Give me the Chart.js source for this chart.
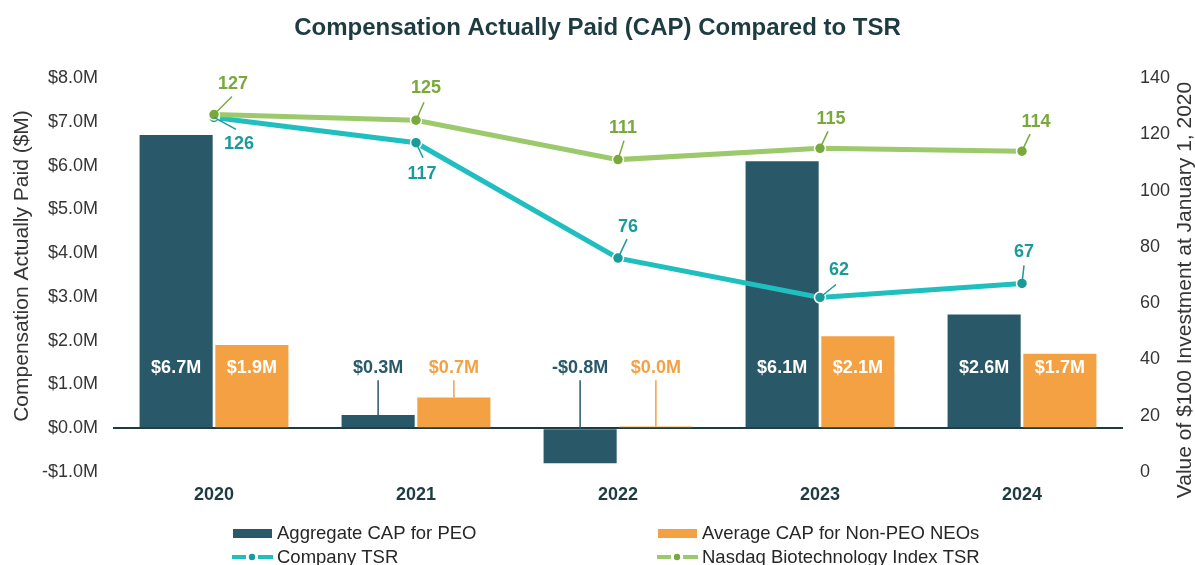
<!DOCTYPE html>
<html>
<head>
<meta charset="utf-8">
<script src="https://cdn.jsdelivr.net/npm/chart.js@4.4.1/dist/chart.umd.min.js"></script>
<style>
  html, body { margin: 0; padding: 0; background: #ffffff; }
  #wrap { position: relative; width: 1195px; height: 565px; }
</style>
</head>
<body>
<div id="wrap"><canvas id="c" width="1195" height="565"></canvas></div>
<script>
// ---- data ----
const years = ['2020', '2021', '2022', '2023', '2024'];
const peoCap = [6.7, 0.3, -0.8, 6.1, 2.6];          // $M
const neoCap = [1.9, 0.7, 0.04, 2.1, 1.7];          // $M
const companyTsr = [126, 117, 76, 62, 67];
const nasdaqTsr = [127, 125, 111, 115, 114];
const seriesNames = ['Aggregate CAP for PEO', 'Average CAP for Non-PEO NEOs', 'Company TSR', 'Nasdaq Biotechnology Index TSR'];
const leftTicks = [-1, 0, 1, 2, 3, 4, 5, 6, 7, 8];
const rightTicks = [0, 20, 40, 60, 80, 100, 120, 140];
const titleText = 'Compensation Actually Paid (CAP) Compared to TSR';
const leftAxisTitle = 'Compensation Actually Paid ($M)';
const rightAxisTitle = 'Value of $100 Investment at January 1, 2020';

// ---- styling ----
const FONT = '"Liberation Sans", Arial, Helvetica, sans-serif';
const C_PEO = '#295868';
const C_NEO = '#f3a143';
const C_CO_LINE = '#1fbfbf';
const C_CO_PT = '#1a9a9a';
const C_NQ_LINE = '#9cc96b';
const C_NQ_PT = '#79a93c';
const C_TEXT = '#353535';
const C_DARK = '#1d3b40';

// label offsets (pixels, relative to each point): [dx, dy, leaderEndDx, leaderEndDy]
const tsrLabelLayout = {
  company: [[25, 27, 22, 12], [6, 31, 7, 15], [10, -31, 9, -19], [19, -27, 16, -13], [2, -31, 2, -18]],
  nasdaq:  [[19, -31, 18, -18], [10, -32, 8, -18], [5, -32, 6, -19], [11, -29, 8, -17], [14, -29, 8, -17]]
};
const BAR_LABEL_LEVEL = 1.37; // on the $M axis

function fmtM(v) {
  const s = '$' + Math.abs(v).toFixed(1) + 'M';
  return v < 0 ? '-' + s : s;
}

const annotPlugin = {
  id: 'annot',
  afterDatasetsDraw(chart) {
    const ctx = chart.ctx;
    const yL = chart.scales.y;
    const labelY = yL.getPixelForValue(BAR_LABEL_LEVEL);
    ctx.save();
    ctx.font = 'bold 18px ' + FONT;
    ctx.textAlign = 'center';
    ctx.textBaseline = 'middle';
    [0, 1].forEach(di => {
      const ds = chart.data.datasets[di];
      const meta = chart.getDatasetMeta(di);
      meta.data.forEach((el, j) => {
        const v = ds.data[j];
        const txt = fmtM(v);
        if (v >= 1.5) {
          ctx.fillStyle = '#ffffff';
          ctx.fillText(txt, el.x, labelY);
        } else {
          ctx.fillStyle = ds.backgroundColor;
          ctx.fillText(txt, el.x, labelY);
          const top = Math.min(el.y, el.base);
          ctx.strokeStyle = ds.backgroundColor;
          ctx.lineWidth = 1.5;
          ctx.beginPath();
          ctx.moveTo(el.x, labelY + 12);
          ctx.lineTo(el.x, top);
          ctx.stroke();
        }
      });
    });
    // line labels
    [[2, 'company', C_CO_PT], [3, 'nasdaq', C_NQ_PT]].forEach(([di, key, col]) => {
      const ds = chart.data.datasets[di];
      const meta = chart.getDatasetMeta(di);
      meta.data.forEach((pt, j) => {
        const o = tsrLabelLayout[key][j];
        ctx.strokeStyle = col;
        ctx.lineWidth = 1.5;
        ctx.beginPath();
        ctx.moveTo(pt.x, pt.y);
        ctx.lineTo(pt.x + o[2], pt.y + o[3]);
        ctx.stroke();
        ctx.fillStyle = col;
        ctx.fillText(String(ds.data[j]), pt.x + o[0], pt.y + o[1]);
      });
    });
    ctx.restore();
  },
  afterDraw(chart) {
    const ctx = chart.ctx;
    ctx.save();
    // axis titles
    ctx.fillStyle = C_TEXT;
    ctx.textAlign = 'center';
    ctx.textBaseline = 'middle';
    ctx.font = '21px ' + FONT;
    ctx.translate(22, 266);
    ctx.rotate(-Math.PI / 2);
    ctx.fillText(leftAxisTitle, 0, 0);
    ctx.setTransform(1, 0, 0, 1, 0, 0);
    ctx.translate(1185, 290);
    ctx.rotate(-Math.PI / 2);
    ctx.fillText(rightAxisTitle, 0, 0);
    ctx.setTransform(1, 0, 0, 1, 0, 0);
    // legend
    const colX = [233, 658];
    const rowY = [533.5, 557];
    ctx.font = '18.5px ' + FONT;
    ctx.textAlign = 'left';
    ctx.textBaseline = 'middle';
    chart.data.datasets.forEach((ds, i) => {
      const cx = colX[i % 2];
      const cy = rowY[Math.floor(i / 2)];
      if (ds.type === 'bar') {
        ctx.fillStyle = ds.backgroundColor;
        ctx.fillRect(cx, cy - 4.5, 39, 9);
      } else {
        ctx.strokeStyle = ds.borderColor;
        ctx.lineWidth = 4;
        ctx.beginPath();
        ctx.moveTo(cx - 1, cy); ctx.lineTo(cx + 13, cy);
        ctx.moveTo(cx + 25, cy); ctx.lineTo(cx + 40, cy);
        ctx.stroke();
        ctx.fillStyle = ds.pointBackgroundColor;
        ctx.beginPath();
        ctx.arc(cx + 19, cy, 3.2, 0, Math.PI * 2);
        ctx.fill();
      }
      ctx.fillStyle = '#262626';
      ctx.fillText(ds.label, cx + 44, cy + 0.5);
    });
    ctx.restore();
  }
};

const chart = new Chart(document.getElementById('c'), {
  data: {
    labels: years,
    datasets: [
      { type: 'bar', label: seriesNames[0], data: peoCap, backgroundColor: C_PEO, yAxisID: 'y', order: 2,
        barPercentage: 0.965, categoryPercentage: 0.75 },
      { type: 'bar', label: seriesNames[1], data: neoCap, backgroundColor: C_NEO, yAxisID: 'y', order: 2,
        barPercentage: 0.965, categoryPercentage: 0.75 },
      { type: 'line', label: seriesNames[2], data: companyTsr, yAxisID: 'y1', order: 1,
        borderColor: C_CO_LINE, borderWidth: 5, pointRadius: 5.5, pointBackgroundColor: C_CO_PT,
        pointBorderColor: '#ffffff', pointBorderWidth: 1.5, tension: 0 },
      { type: 'line', label: seriesNames[3], data: nasdaqTsr, yAxisID: 'y1', order: 0,
        borderColor: C_NQ_LINE, borderWidth: 5, pointRadius: 5.5, pointBackgroundColor: C_NQ_PT,
        pointBorderColor: '#ffffff', pointBorderWidth: 1.5, tension: 0 }
    ]
  },
  options: {
    responsive: false,
    animation: false,
    layout: { padding: { top: 0, bottom: 53, left: 0, right: 0 } },
    plugins: {
      legend: { display: false },
      tooltip: { enabled: false },
      title: {
        display: true, text: titleText, color: C_DARK,
        font: { family: FONT, size: 24, weight: 'bold' },
        padding: { top: 14, bottom: 35.2 }
      }
    },
    scales: {
      x: {
        grid: { display: false, drawTicks: false },
        border: { display: false },
        afterFit(s) { s.height = 40; },
        ticks: { color: C_DARK, font: { family: FONT, size: 18, weight: 'bold' }, padding: 12 }
      },
      y: {
        position: 'left', min: leftTicks[0], max: leftTicks[leftTicks.length - 1],
        afterBuildTicks(s) { s.ticks = leftTicks.map(v => ({ value: v })); },
        afterFit(s) { s.width = 113; },
        border: { display: false },
        grid: {
          drawTicks: false,
          lineWidth: 2,
          color: c => (c.tick && c.tick.value === 0) ? C_DARK : 'rgba(0,0,0,0)'
        },
        ticks: { color: C_TEXT, font: { family: FONT, size: 18 }, padding: 15, callback: v => fmtM(v) }
      },
      y1: {
        position: 'right', min: rightTicks[0], max: rightTicks[rightTicks.length - 1],
        afterBuildTicks(s) { s.ticks = rightTicks.map(v => ({ value: v })); },
        afterFit(s) { s.width = 72; },
        border: { display: false },
        grid: { display: false, drawTicks: false },
        ticks: { color: C_TEXT, font: { family: FONT, size: 18 }, padding: 17 }
      }
    }
  },
  plugins: [annotPlugin]
});
</script>
</body>
</html>
